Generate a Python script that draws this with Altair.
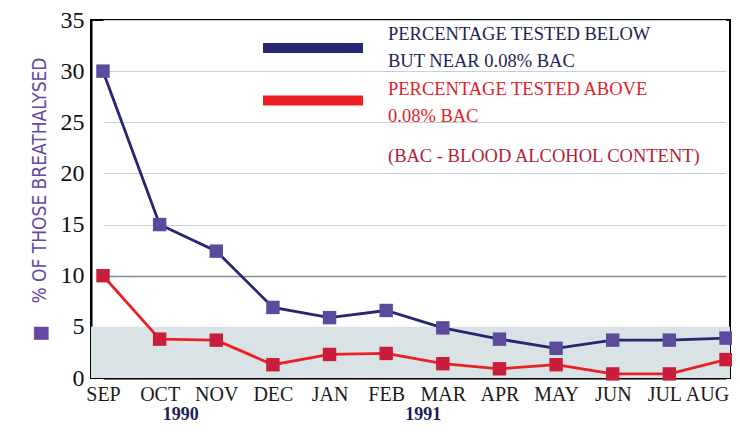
import altair as alt
import pandas as pd

months = ["SEP", "OCT", "NOV", "DEC", "JAN", "FEB", "MAR", "APR", "MAY", "JUN", "JUL", "AUG"]
below_near = [30, 15, 12.4, 6.9, 5.9, 6.6, 4.9, 3.8, 2.9, 3.7, 3.7, 3.9]
above = [10, 3.8, 3.7, 1.3, 2.3, 2.4, 1.4, 0.9, 1.3, 0.4, 0.4, 1.8]
series_names = ["PERCENTAGE TESTED BELOW|BUT NEAR 0.08% BAC",
                "PERCENTAGE TESTED ABOVE|0.08% BAC"]
line_colors = ["#262673", "#ec2024"]
marker_colors = ["#5b4b9c", "#c81e3c"]
legend_text_colors = ["#1c2358", "#e3202a"]
y_ticks = [0, 5, 10, 15, 20, 25, 30, 35]
band = [0, 5]
year_text = ["1990", "1991"]
year_anchor = ["OCT", "FEB"]
note = "(BAC - BLOOD ALCOHOL CONTENT)"
y_title = "\u25A0" + "\u00a0" * 4 + "% OF THOSE BREATHALYSED"

W, H = 639, 358

rows = []
for name, vals in zip(series_names, [below_near, above]):
    for m, v in zip(months, vals):
        rows.append({"month": m, "series": name, "value": v})
df = pd.DataFrame(rows)

yscale = alt.Scale(domain=[0, 35], nice=False)
xscale = alt.Scale(type="point", padding=0, range=[12, 635], domain=months)

label_offset = {"condition": [{"test": "datum.value === 'AUG'", "value": -19},
                              {"test": "datum.value === 'JUL'", "value": -5}],
                "value": 0}

xenc = alt.X("month:N", sort=months, scale=xscale,
             axis=alt.Axis(title=None, ticks=False, labelAngle=0,
                           labelFont="Liberation Serif", labelFontSize=20,
                           labelColor="#1a1a1a", labelPadding=6,
                           labelOffset=label_offset,
                           domainColor="black", domainWidth=2, grid=False))

band_layer = alt.Chart(pd.DataFrame({"y0": [band[0]], "y1": [band[1]]})).mark_rect(
    color="#d9e3e6").encode(
    x=alt.value(0), x2=alt.value(W),
    y=alt.Y("y0:Q", scale=yscale,
            axis=alt.Axis(values=y_ticks, ticks=False, title=y_title,
                          labelFont="Liberation Serif", labelFontSize=24,
                          labelColor="#111111", labelPadding=7,
                          domainColor="black", domainWidth=2,
                          grid=True,
                          gridColor=alt.condition("datum.value === 10",
                                                  alt.value("#7f8f8f"),
                                                  alt.value("#c3d3d3")),
                          gridWidth=alt.condition("datum.value === 10",
                                                  alt.value(1.6),
                                                  alt.value(1.1)),
                          titleFont="DejaVu Sans Condensed, Liberation Sans, sans-serif",
                          titleFontSize=19, titleFontWeight="normal",
                          titleColor="#6448a8", titleAngle=270,
                          titleX=-52, titleY=179, titleAlign="center",
                          titleBaseline="middle")),
    y2="y1:Q")

lines = alt.Chart(df).mark_line(strokeWidth=2.8).encode(
    x=xenc,
    y=alt.Y("value:Q", scale=yscale),
    stroke=alt.Stroke("series:N",
                      scale=alt.Scale(domain=series_names, range=line_colors),
                      legend=None))

points = alt.Chart(df).mark_square(size=180, opacity=1).encode(
    x=xenc,
    y=alt.Y("value:Q", scale=yscale),
    fill=alt.Fill("series:N",
                  scale=alt.Scale(domain=series_names, range=marker_colors),
                  legend=None))

legend_layers = []
for i, (ry, ty) in enumerate([(28, 20), (80.5, 75)]):
    src = pd.DataFrame({"s": [series_names[i]]})
    legend_layers.append(
        alt.Chart(src).mark_rule(strokeWidth=10, color=line_colors[i]).encode(
            x=alt.value(172), x2=alt.value(272), y=alt.value(ry)))
    legend_layers.append(
        alt.Chart(src).transform_calculate(lines="split(datum.s, '|')").mark_text(
            align="left", baseline="alphabetic", font="Liberation Serif",
            fontSize=18.5, lineHeight=27, color=legend_text_colors[i]).encode(
            text="lines:N", x=alt.value(297), y=alt.value(ty)))

note_layer = alt.Chart(pd.DataFrame({"t": [note]})).mark_text(
    align="left", baseline="alphabetic", font="Liberation Serif", fontSize=18.5,
    color="#b01e36").encode(text="t:N", x=alt.value(297), y=alt.value(142))

ydf = pd.DataFrame({"month": year_anchor, "t": year_text})
year1 = alt.Chart(ydf.iloc[[0]]).mark_text(
    font="Liberation Serif", fontWeight="bold", fontSize=18, color="#1a1f5c",
    baseline="middle", dx=21).encode(x=xenc, y=alt.value(395), text="t:N")
year2 = alt.Chart(ydf.iloc[[1]]).mark_text(
    font="Liberation Serif", fontWeight="bold", fontSize=18, color="#1a1f5c",
    baseline="middle", dx=37).encode(x=xenc, y=alt.value(395), text="t:N")

chart = alt.layer(band_layer, lines, points, *legend_layers, note_layer, year1, year2).resolve_scale(
    stroke="independent", fill="independent"
).properties(
    width=W, height=H,
    autosize=alt.AutoSizeParams(type="none"),
    padding={"left": 83, "top": 12, "right": 2, "bottom": 46},
    background="white"
).configure_view(stroke="black", strokeWidth=2)

chart.save("out.html", embed_options={"renderer": "svg", "actions": False})
